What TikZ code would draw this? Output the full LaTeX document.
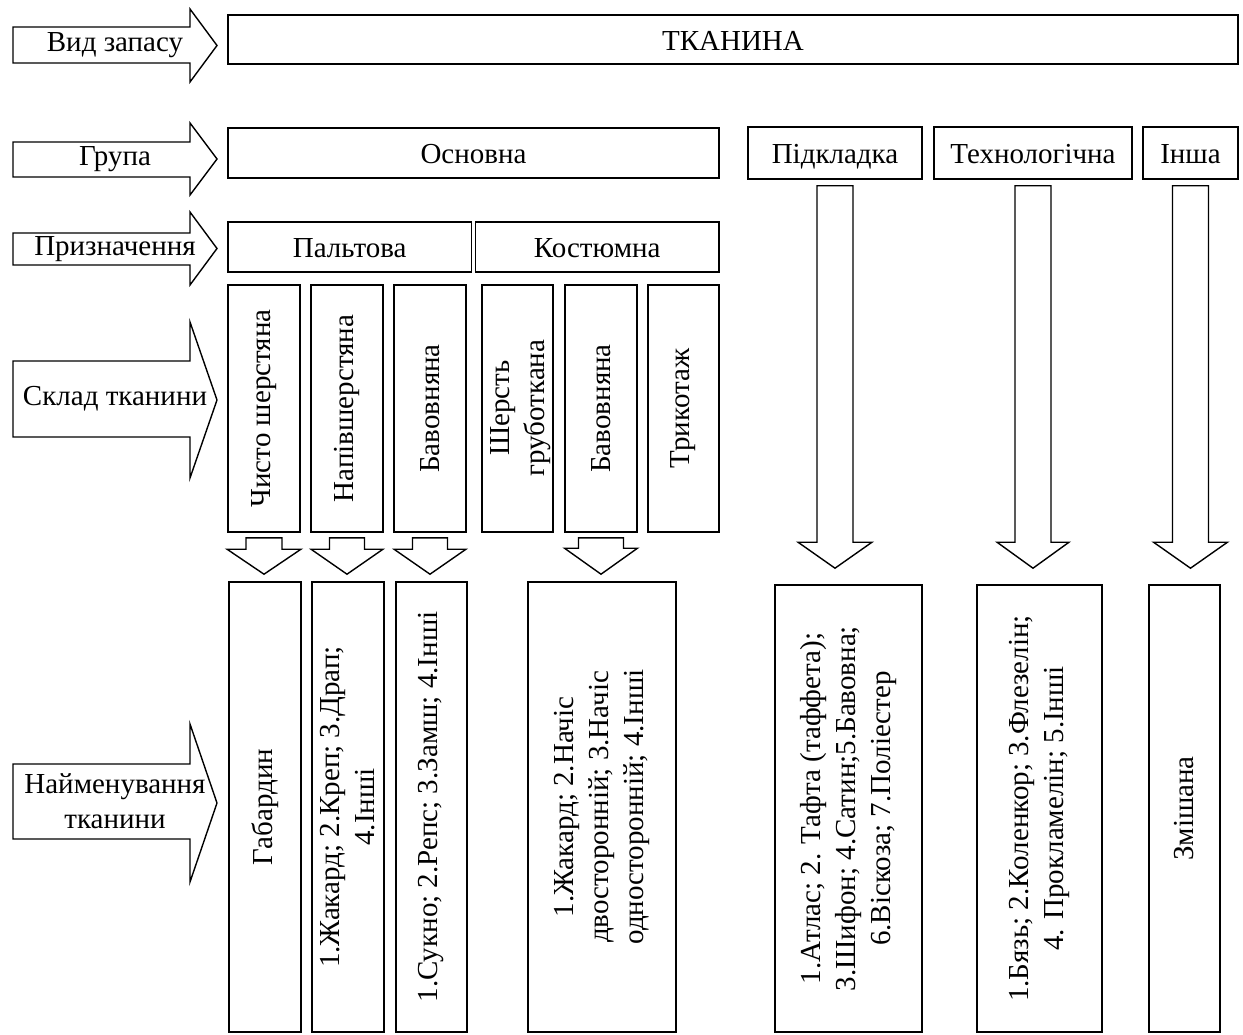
\documentclass[tikz,border=0pt]{standalone}
\usepackage{fontspec}
\setmainfont{Liberation Serif}
\usetikzlibrary{calc}
\tikzset{
  bx/.style={draw=black, line width=1.6pt, inner sep=0pt, fill=white, font=\fontsize{29}{35}\selectfont, text height=22pt, text depth=0pt},
  blk/.style={draw=black, line width=1.4pt, fill=white, line join=miter},
  txt/.style={inner sep=0pt, align=center, font=\fontsize{29}{35}\selectfont},
  vtxt/.style={txt, rotate=90},
}
% box: name, x1, y1, x2, y2, text
\newcommand\bx[6]{\node[bx, minimum width={#4pt-#2pt}, minimum height={#5pt-#3pt}] (#1) at ({(#2+#4)/2},{(#3+#5)/2}) {#6};}
% vertical box with rotated text
\newcommand\vbx[6]{\bx{#1}{#2}{#3}{#4}{#5}{}\node[vtxt] (#1t) at (#1.center) {#6};}
% left block arrow: name, body top, body bottom, head top, head bottom, text
\newcommand\lar[6]{%
  \draw[blk] (13,#2) -- (190,#2) -- (190,#4) -- (217,{(#4+#5)/2}) -- (190,#5) -- (190,#3) -- (13,#3) -- cycle;
  \node[txt] (#1) at (115,{(#2+#3)/2}) {#6};}
% down block arrow: from, to, stem half, head half, head length, top gap, bottom gap
\newcommand\dar[7]{%
  \draw[blk] let \p1=(#1.south), \p2=(#2.north) in
    (\x1-#3pt,\y1-#6pt) -- (\x1+#3pt,\y1-#6pt) -- (\x1+#3pt,\y2+#7pt+#5pt) -- (\x1+#4pt,\y2+#7pt+#5pt)
    -- (\x1,\y2+#7pt) -- (\x1-#4pt,\y2+#7pt+#5pt) -- (\x1-#3pt,\y2+#7pt+#5pt) -- cycle;}
\begin{document}
\begin{tikzpicture}[x=1pt,y=-1pt]
\useasboundingbox[fill=white] (0,0) rectangle (1243,1035);
% left arrows
\lar{l1}{27}{63}{9}{82}{Вид запасу}
\lar{l2}{142}{177}{123}{195}{Група}
\lar{l3}{233}{265}{212}{285}{Призначення}
\lar{l4}{361}{437}{322}{478}{Склад тканини}
\lar{l5}{764}{839}{724}{882}{Найменування\\тканини}
% top boxes
\bx{tk}{228}{15}{1238}{64}{ТКАНИНА}
\bx{osn}{228}{128}{719}{178}{Основна}
\bx{pidk}{748}{127}{922}{179}{Підкладка}
\bx{tech}{934}{127}{1132}{179}{Технологічна}
\bx{insha}{1143}{127}{1238}{179}{Інша}
\bx{palt}{228}{222}{471.5}{272}{Пальтова}
\bx{kost}{475.5}{222}{719}{272}{Костюмна}
% composition columns
\vbx{c1}{228}{285}{300}{532}{Чисто шерстяна}
\vbx{c2}{311}{285}{383}{532}{Напівшерстяна}
\vbx{c3}{394}{285}{466}{532}{Бавовняна}
\bx{c4}{482}{285}{553}{532}{}
\node[vtxt] (c4t) at (521,408) {Шерсть\\груботкана};
\vbx{c5}{565}{285}{637}{532}{Бавовняна}
\vbx{c6}{648}{285}{719}{532}{Трикотаж}
% name boxes
\vbx{b1}{229}{582}{301}{1032}{Габардин}
\vbx{b2}{312}{582}{384}{1032}{1.Жакард; 2.Креп; 3.Драп;\\4.Інші}
\vbx{b3}{396}{582}{467}{1032}{1.Сукно; 2.Репс; 3.Замш; 4.Інші}
\vbx{b4}{528}{582}{676}{1032}{1.Жакард; 2.Начіс\\двосторонній; 3.Начіс\\односторонній; 4.Інші}
\vbx{b5}{775}{585}{922}{1032}{1.Атлас; 2. Тафта (таффета);\\3.Шифон; 4.Сатин;5.Бавовна;\\6.Віскоза; 7.Поліестер}
\vbx{b6}{977}{585}{1102}{1032}{1.Бязь; 2.Коленкор; 3.Флезелін;\\4. Прокламелін; 5.Інші}
\vbx{b7}{1149}{585}{1220}{1032}{Змішана}
% down arrows
\dar{c1}{b1}{18}{37}{25}{5}{7}
\dar{c2}{b2}{17.5}{36}{25}{5}{7}
\dar{c3}{b3}{17.5}{36}{25}{5}{7}
\dar{c5}{b4}{22.5}{36.5}{26}{5}{7}
\dar{pidk}{b5}{18}{37}{26}{6}{16}
\dar{tech}{b6}{18}{36}{26}{6}{16}
\dar{insha}{b7}{18}{37}{26}{6}{16}
\end{tikzpicture}
\end{document}
